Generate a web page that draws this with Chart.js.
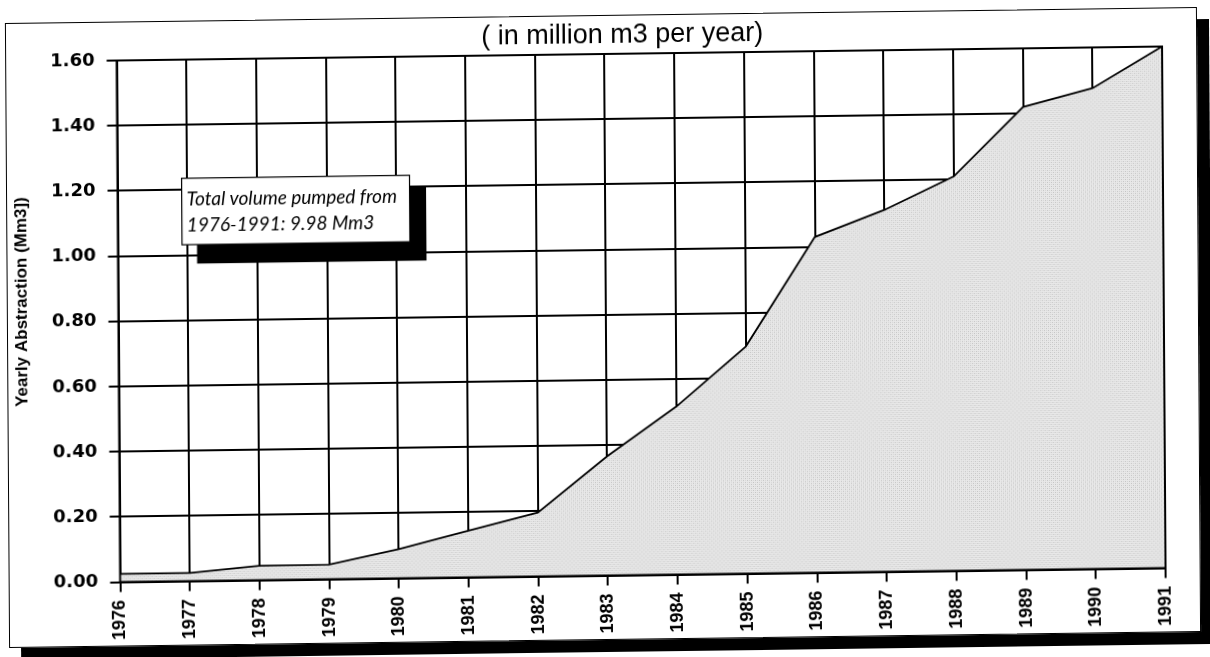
<!DOCTYPE html>
<html>
<head>
<meta charset="utf-8">
<script src="https://cdn.jsdelivr.net/npm/chart.js@4.4.0/dist/chart.umd.min.js"></script>
<style>
  html, body { margin: 0; padding: 0; background: #fff; overflow: hidden; }
  #page {
    position: relative; width: 1210px; height: 657px;
    transform-origin: 605px 328.5px;
    transform: matrix(1, -0.0134, 0.0067, 1, 0, 0);
  }
  #frame {
    position: absolute; left: 7px; top: 15px; width: 1192px; height: 625px;
    box-sizing: border-box; border: 1.5px solid #000;
    box-shadow: 12px 12px 0 #000; background: #fff;
  }
  #chart { position: absolute; left: 0; top: 0; }
</style>
</head>
<body>
<div id="page">
  <div id="frame"></div>
  <canvas id="chart" width="1210" height="657"></canvas>
</div>
<script>
// Yearly groundwater abstraction, million m3
const years = ['1976', '1977', '1978', '1979', '1980', '1981', '1982', '1983',
               '1984', '1985', '1986', '1987', '1988', '1989', '1990', '1991'];
const abstraction = [0.025, 0.025, 0.044, 0.045, 0.089, 0.143, 0.196, 0.366,
                     0.516, 0.697, 1.03, 1.11, 1.21, 1.42, 1.475, 1.60];
const yTickValues = [0, 0.2, 0.4, 0.6, 0.8, 1.0, 1.2, 1.4, 1.6];
const yTickLabels = ['0.00', '0.20', '0.40', '0.60', '0.80', '1.00', '1.20', '1.40', '1.60'];
const heading = '( in million m3 per year)';
const yAxisTitle = 'Yearly Abstraction (Mm3])';
const noteLines = ['Total volume pumped from', '1976-1991: 9.98 Mm3'];

// light grey stipple used for the area fill
function stipple() {
  const tile = document.createElement('canvas');
  tile.width = 4; tile.height = 4;
  const g = tile.getContext('2d');
  g.fillStyle = '#e8e8e8'; g.fillRect(0, 0, 4, 4);
  g.fillStyle = '#c4c4c4'; g.fillRect(0, 0, 1, 1); g.fillRect(2, 2, 1, 1);
  g.fillStyle = '#d6d6d6'; g.fillRect(2, 0, 1, 1); g.fillRect(0, 2, 1, 1);
  return g.createPattern(tile, 'repeat');
}

const SANS = '"Liberation Sans", Arial, sans-serif';

const decor = {
  id: 'decor',
  afterDatasetsDraw(chart) {
    const { ctx, chartArea: a } = chart;
    ctx.save();
    ctx.strokeStyle = '#000';
    ctx.lineWidth = 2;
    ctx.strokeRect(a.left, a.top, a.right - a.left, a.bottom - a.top);
    ctx.restore();
  },
  afterDraw(chart) {
    const { ctx, chartArea: a, scales: { x, y } } = chart;
    ctx.save();
    ctx.fillStyle = '#000';

    // heading above the plot
    ctx.font = '27px ' + SANS;
    ctx.textAlign = 'center';
    ctx.textBaseline = 'middle';
    ctx.fillText(heading, (a.left + a.right) / 2 - 17, a.top - 18);

    // vertical axis title
    ctx.save();
    ctx.translate(a.left - 96.5, (a.top + a.bottom) / 2 - 20.5);
    ctx.rotate(-Math.PI / 2);
    ctx.font = 'bold 17px ' + SANS;
    ctx.fillText(yAxisTitle, 0, 0);
    ctx.restore();

    // note box with a solid drop shadow
    const bl = x.getPixelForValue(0.92), br = x.getPixelForValue(4.19);
    const bt = y.getPixelForValue(1.236), bb = y.getPixelForValue(1.032);
    ctx.fillStyle = '#000';
    ctx.fillRect(bl + 15, bt + 12, br - bl + 1.5, bb - bt + 7);
    ctx.fillStyle = '#fff';
    ctx.fillRect(bl, bt, br - bl, bb - bt);
    ctx.strokeStyle = '#000';
    ctx.lineWidth = 1.2;
    ctx.strokeRect(bl, bt, br - bl, bb - bt);
    ctx.fillStyle = '#000';
    ctx.font = 'italic 19px Lato, "Open Sans", sans-serif';
    ctx.textAlign = 'left';
    ctx.textBaseline = 'alphabetic';
    ctx.fillText(noteLines[0], bl + 5, bt + 27);
    ctx.fillText(noteLines[1], bl + 5, bt + 53.5);
    ctx.restore();
  }
};

new Chart(document.getElementById('chart'), {
  type: 'line',
  data: {
    labels: years,
    datasets: [{
      data: abstraction,
      fill: 'origin',
      backgroundColor: stipple(),
      borderColor: '#000',
      borderWidth: 1.8,
      pointRadius: 0,
      tension: 0
    }]
  },
  options: {
    responsive: false,
    animation: false,
    devicePixelRatio: 1,
    layout: { padding: { left: 0, right: 46, top: 54, bottom: 0 } },
    plugins: {
      legend: { display: false },
      tooltip: { enabled: false },
      title: { display: false }
    },
    scales: {
      x: {
        type: 'category',
        offset: false,
        border: { display: false },
        grid: { color: '#000', lineWidth: 2, tickLength: 10, drawTicks: true },
        ticks: {
          color: '#000',
          font: { family: SANS, weight: 'bold', size: 18 },
          minRotation: 90, maxRotation: 90,
          autoSkip: false,
          padding: 8
        },
        afterFit(s) { s.height = 81.5; }
      },
      y: {
        min: 0, max: 1.6,
        border: { display: false },
        grid: { color: '#000', lineWidth: 2, tickLength: 10, drawTicks: true },
        afterBuildTicks(s) { s.ticks = yTickValues.map(v => ({ value: v })); },
        ticks: {
          color: '#000',
          font: { family: '"DejaVu Sans", sans-serif', weight: 'bold', size: 18 },
          padding: 12,
          callback: (v, i) => yTickLabels[i]
        },
        afterFit(s) { s.width = 118.5; }
      }
    }
  },
  plugins: [decor]
});
</script>
</body>
</html>
